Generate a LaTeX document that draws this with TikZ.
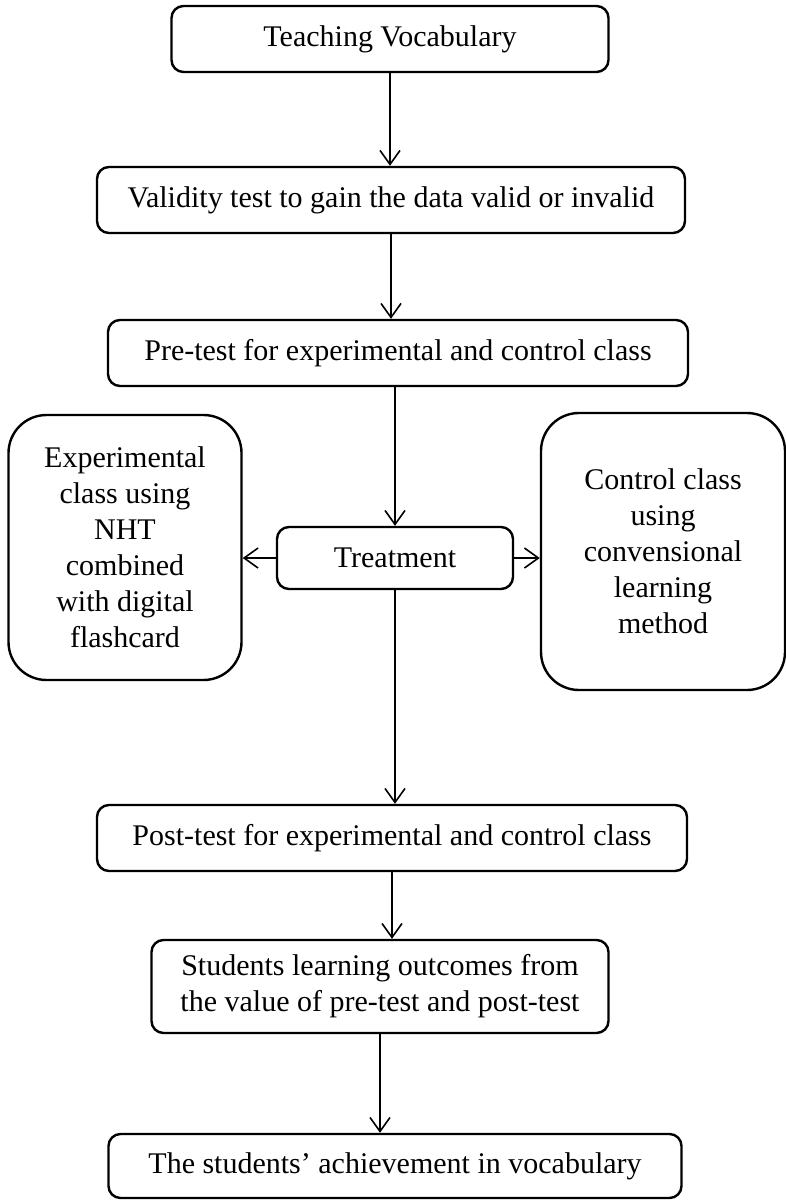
\documentclass[tikz,border=0pt]{standalone}
\usepackage{fontspec}
\setmainfont{Liberation Serif}
\usepackage{tikz}
\usetikzlibrary{arrows.meta,positioning}
\tikzstyle{stepbox} = [draw, line width=2.4pt, rounded corners=12pt, align=center, minimum height=66pt, inner sep=0pt]
\tikzstyle{sidebox} = [draw, line width=2.4pt, rounded corners=38pt, align=center, inner sep=0pt]
\tikzstyle{arrow} = [line width=1.6pt, -{Straight Barb[length=14pt,width=20pt,line width=1.6pt]}]

\begin{document}
\begin{tikzpicture}[x=1pt, y=-1pt, font=\fontsize{30}{36}\selectfont]
    \useasboundingbox (0,0) rectangle (786,1200);

    % Main column
    \node[stepbox, minimum width=437pt] (teach) at (390,39) {Teaching Vocabulary};
    \node[stepbox, minimum width=588pt] (valid) at (391,200) {Validity test to gain the data valid or invalid};
    \node[stepbox, minimum width=580pt] (pre) at (398,353) {Pre-test for experimental and control class};
    \node[stepbox, minimum width=236pt, minimum height=62pt] (treat) at (395,558) {Treatment};
    \node[stepbox, minimum width=590pt] (post) at (392,838) {Post-test for experimental and control class};
    \node[stepbox, minimum width=457pt, minimum height=93pt] (outcome) at (380,986.5) {Students learning outcomes from\\the value of pre-test and post-test};
    \node[stepbox, minimum width=573pt, minimum height=64pt] (achieve) at (395,1166) {The students’ achievement in vocabulary};

    % Side classes
    \node[sidebox, minimum width=233pt, minimum height=265pt] (exper) at (125,547.5) {Experimental\\class using\\NHT\\combined\\with digital\\flashcard};
    \node[sidebox, minimum width=244pt, minimum height=277pt] (control) at (663,551.5) {Control class\\using\\convensional\\learning\\method};

    % Connectors
    \draw[arrow] (teach.south) -- (teach.south |- valid.north);
    \draw[arrow] (valid.south) -- (valid.south |- pre.north);
    \draw[arrow] (pre.south -| treat.north) -- (treat.north);
    \draw[arrow] (treat.south) -- (treat.south |- post.north);
    \draw[arrow] (post.south) -- (post.south |- outcome.north);
    \draw[arrow] (outcome.south) -- (outcome.south |- achieve.north);
    \draw[arrow] (treat.west) -- (treat.west -| exper.east);
    \draw[arrow] (treat.east) -- (treat.east -| control.west);
\end{tikzpicture}
\end{document}
